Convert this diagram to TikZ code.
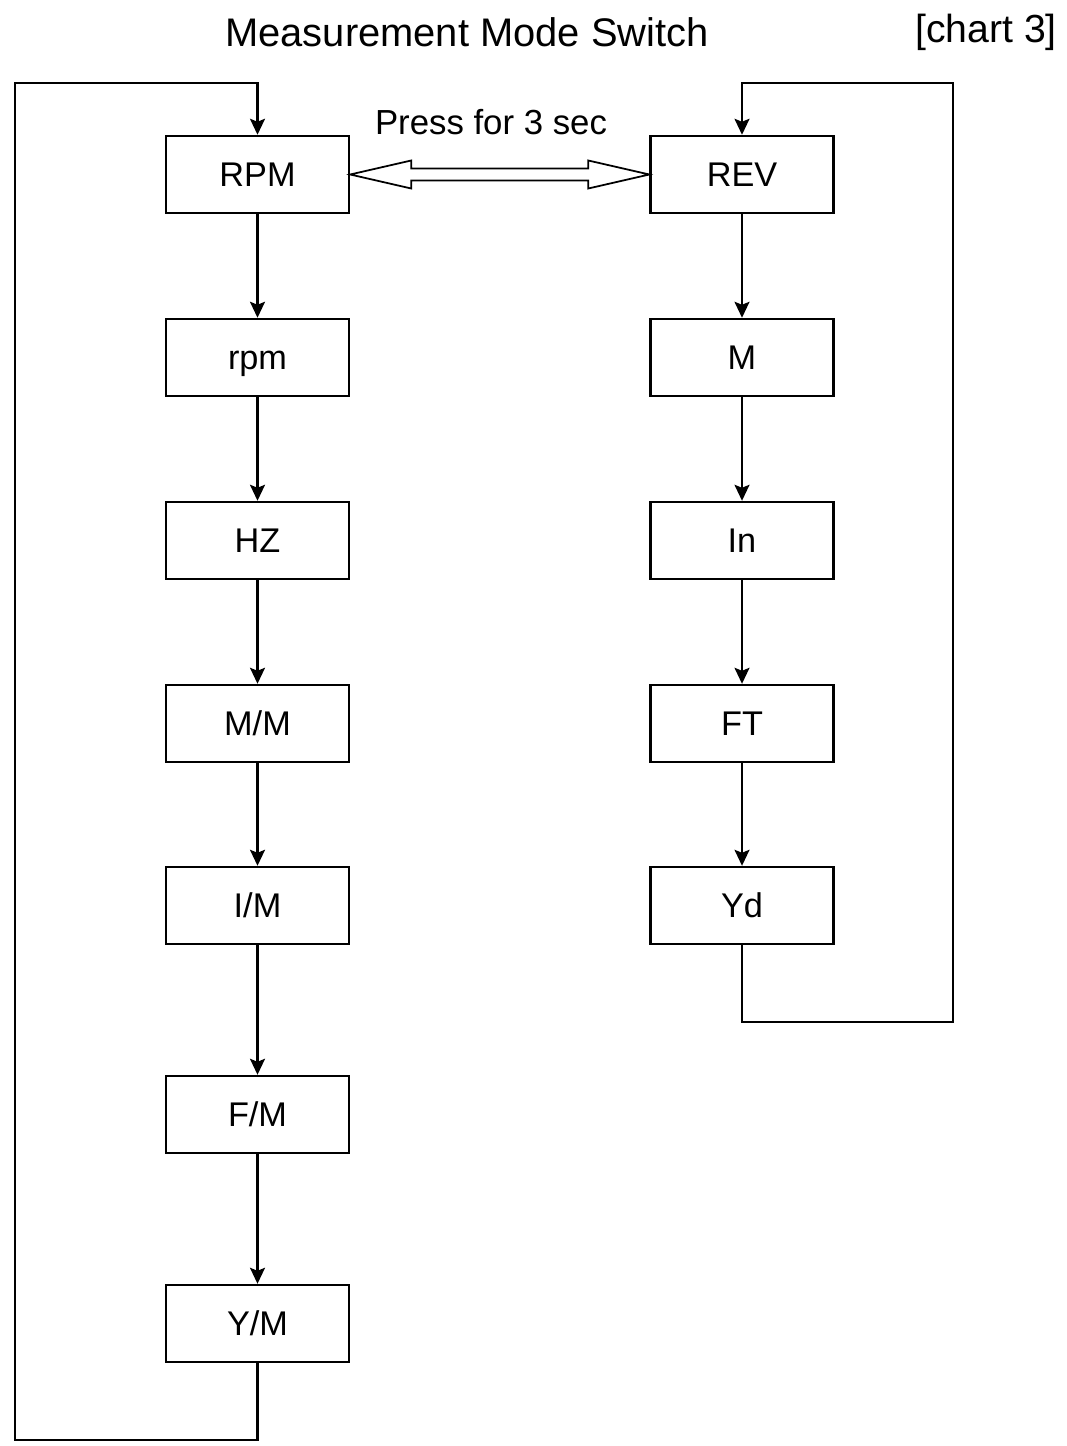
\documentclass[tikz,border=0pt]{standalone}
\usepackage{fontspec}
\setmainfont{Liberation Sans}
\usetikzlibrary{arrows.meta, positioning, calc}

\begin{document}
\begin{tikzpicture}[x=0.02cm, y=-0.02cm,
	mode/.style={draw, line width=1.4pt, minimum width=3.66cm, minimum height=1.54cm, inner sep=0pt, text height=14pt, text depth=0pt, font=\fontsize{19.5}{22}\selectfont},
	flow/.style={line width=1.2pt, -{Stealth[length=0.32cm, width=0.3cm, inset=0.06cm]}}]
		\useasboundingbox (0,0) rectangle (1067,1446);
		% Titles
		\node (title) at (467,32) {\fontsize{22.7}{25}\selectfont Measurement Mode Switch};
		\node (chart) at (986,32) {\fontsize{22.3}{25}\selectfont [chart 3]};
		\node (press) at (491,122) {\fontsize{19.8}{22}\selectfont Press for 3 sec};
		
		% Left column
		\node[mode] (RPM) at (257.5,174.5) {RPM};
		\node[mode] (rpm) at (257.5,357.5) {rpm};
		\node[mode] (HZ) at (257.5,540.5) {HZ};
		\node[mode] (MM) at (257.5,723.5) {M/M};
		\node[mode] (IM) at (257.5,905.5) {I/M};
		\node[mode] (FM) at (257.5,1114.5) {F/M};
		\node[mode] (YM) at (257.5,1323.5) {Y/M};
		
		% Right column
		\node[mode] (REV) at (742,174.5) {REV};
		\node[mode] (M) at (742,357.5) {M};
		\node[mode] (In) at (742,540.5) {In};
		\node[mode] (FT) at (742,723.5) {FT};
		\node[mode] (Yd) at (742,905.5) {Yd};
		
		% Arrows down the columns
		\draw[flow] (RPM) -- (rpm);
		\draw[flow] (rpm) -- (HZ);
		\draw[flow] (HZ) -- (MM);
		\draw[flow] (MM) -- (IM);
		\draw[flow] (IM) -- (FM);
		\draw[flow] (FM) -- (YM);
		\draw[flow] (REV) -- (M);
		\draw[flow] (M) -- (In);
		\draw[flow] (In) -- (FT);
		\draw[flow] (FT) -- (Yd);
		
		% Loops back to the top
		\coordinate (lbot) at (15,1440);
		\coordinate (ltop) at (15,83);
		\coordinate (rbot) at (953,1022);
		\coordinate (rtop) at (953,83);
		\draw[flow] (YM.south) |- (lbot) -- (ltop) -| (RPM.north);
		\draw[flow] (Yd.south) |- (rbot) -- (rtop) -| (REV.north);
		
		% Hollow double arrow between RPM and REV
		\draw[line width=1pt, fill=white] (RPM.east) -- ++(61,-14) -- ++(0,8)
			-- ($(REV.west)+(-61,-6)$) -- ++(0,-8) -- (REV.west) -- ++(-61,14) -- ++(0,-8)
			-- ($(RPM.east)+(61,6)$) -- ++(0,8) -- cycle;
\end{tikzpicture}
\end{document}
